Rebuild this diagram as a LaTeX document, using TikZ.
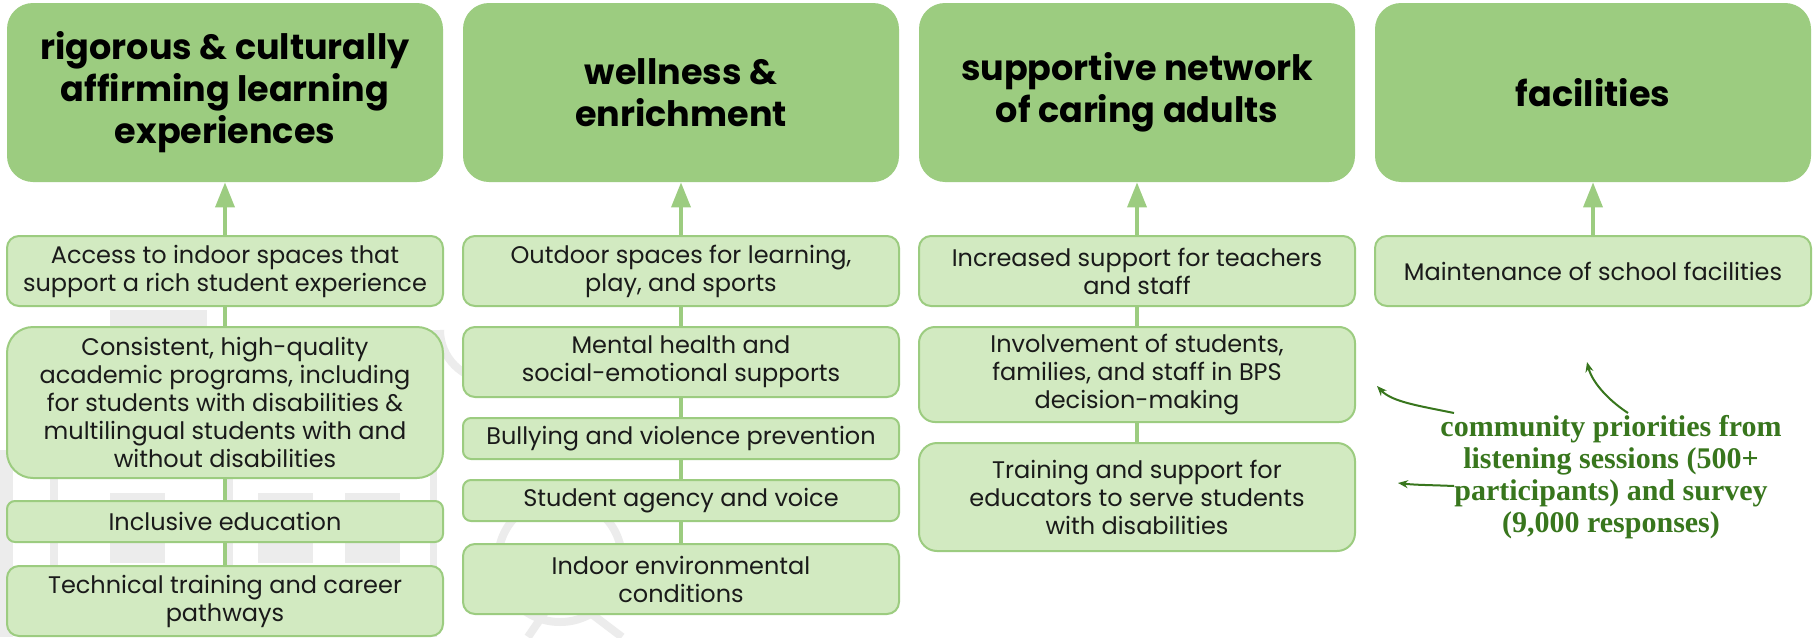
\documentclass[tikz,border=0pt]{standalone}
\usepackage{fontspec}
\setmainfont{Poppins}
\newfontfamily\cpfont{Liberation Serif}
\usetikzlibrary{arrows.meta}
\definecolor{hdrgreen}{HTML}{9CCC80}
\definecolor{boxfill}{HTML}{D2EAC1}
\definecolor{boxline}{HTML}{9CCC80}
\definecolor{txt}{HTML}{1A1A1A}
\definecolor{cpgreen}{HTML}{38761D}
\definecolor{wmark}{HTML}{ECECEC}
\tikzset{
  hdr/.style={fill=hdrgreen, draw=none, rounded corners=13pt, minimum width=218pt, minimum height=89.5pt,
    inner sep=0pt, align=center, font=\fontsize{17.5}{21}\selectfont\bfseries, text=black},
  item/.style={fill=boxfill, draw=boxline, line width=1pt, minimum width=218pt, inner sep=0pt,
    align=center, font=\fontsize{12}{14}\selectfont, text=txt},
  link/.style={draw=boxline, line width=1.8pt},
  uparrow/.style={draw=boxline, line width=1.8pt, -{Triangle[length=12.5pt,width=9.5pt]}},
  note/.style={draw=cpgreen, line width=1pt, -{Stealth[length=5pt,width=4pt]}},
  wm/.style={fill=wmark, draw=none},
  wmline/.style={draw=wmark, line width=4pt}
}
\begin{document}
\begin{tikzpicture}[x=0.5pt,y=-0.5pt]
\path[use as bounding box, fill=white] (0,0) rectangle (1819,637);

% faint background sketch (school building and tree)
\fill[wm] (0,450) rectangle (13,637);
\fill[wm] (50,330) rectangle (58,637);
\fill[wm] (227,330) rectangle (233,637);
\fill[wm] (430,330) rectangle (437,637);
\fill[wm] (110,310) rectangle (207,327);
\fill[wm] (110,493) rectangle (165,563);
\fill[wm] (258,493) rectangle (313,563);
\fill[wm] (345,493) rectangle (400,563);
\draw[wmline] (440,330) arc[start angle=180, end angle=0, radius=50];
\draw[wmline] (560,560) circle[radius=62];
\draw[wmline] (528,637) -- (560,590) -- (622,637);

% headers
\node[hdr] (h1) at (225,92.5) {rigorous \& culturally\\affirming learning\\experiences};
\node[hdr] (h2) at (681,92.5) {wellness \&\\enrichment};
\node[hdr] (h3) at (1137,92.5) {supportive network\\of caring adults};
\node[hdr] (h4) at (1593,92.5) {facilities};

% column 1
\node[item, minimum height=35pt, rounded corners=6pt] (a1) at (225,271) {Access to indoor spaces that\\support a rich student experience};
\node[item, minimum height=75.5pt, rounded corners=13pt] (a2) at (225,402.5) {Consistent, high-quality\\academic programs, including\\for students with disabilities \&\\multilingual students with and\\without disabilities};
\node[item, minimum height=20.5pt, rounded corners=4pt] (a3) at (225,521.5) {Inclusive education};
\node[item, minimum height=35pt, rounded corners=6pt] (a4) at (225,601) {Technical training and career\\pathways};

% column 2
\node[item, minimum height=35pt, rounded corners=6pt] (b1) at (681,271) {Outdoor spaces for learning,\\play, and sports};
\node[item, minimum height=35pt, rounded corners=6pt] (b2) at (681,362) {Mental health and\\social-emotional supports};
\node[item, minimum height=20.5pt, rounded corners=4pt] (b3) at (681,438.5) {Bullying and violence prevention};
\node[item, minimum height=20.5pt, rounded corners=4pt] (b4) at (681,500.5) {Student agency and voice};
\node[item, minimum height=35pt, rounded corners=6pt] (b5) at (681,579) {Indoor environmental\\conditions};

% column 3
\node[item, minimum height=35pt, rounded corners=6pt] (c1) at (1137,271) {Increased support for teachers\\and staff};
\node[item, minimum height=47.5pt, rounded corners=8pt] (c2) at (1137,374.5) {Involvement of students,\\families, and staff in BPS\\decision-making};
\node[item, minimum height=54pt, rounded corners=9pt] (c3) at (1137,497) {Training and support for\\educators to serve students\\with disabilities};

% column 4
\node[item, minimum height=35pt, rounded corners=6pt] (d1) at (1593,271) {Maintenance of school facilities};

% connectors
\draw[uparrow] (a1.north) -- (h1.south);
\draw[link] (a2.north) -- (a1.south);
\draw[link] (a3.north) -- (a2.south);
\draw[link] (a4.north) -- (a3.south);

\draw[uparrow] (b1.north) -- (h2.south);
\draw[link] (b2.north) -- (b1.south);
\draw[link] (b3.north) -- (b2.south);
\draw[link] (b4.north) -- (b3.south);
\draw[link] (b5.north) -- (b4.south);

\draw[uparrow] (c1.north) -- (h3.south);
\draw[link] (c2.north) -- (c1.south);
\draw[link] (c3.north) -- (c2.south);

\draw[uparrow] (d1.north) -- (h4.south);

% community priorities note
\node[align=center, inner sep=0pt, text=cpgreen, font=\cpfont\bfseries\fontsize{15}{16}\selectfont] (cp) at (1611,477)
  {community priorities from\\listening sessions (500+\\participants) and survey\\(9,000 responses)};
\coordinate (s1) at (1454,413);
\coordinate (e1) at (1377,386);
\coordinate (s2) at (1628,413);
\coordinate (e2) at (1587,362);
\coordinate (s3) at (1454,486);
\coordinate (e3) at (1398,483);
\draw[note] (s1) .. controls (1420,406) and (1392,402) .. (e1);
\draw[note] (s2) .. controls (1608,400) and (1592,382) .. (e2);
\draw[note] (s3) .. controls (1430,485) and (1415,485) .. (e3);
\end{tikzpicture}
\end{document}
